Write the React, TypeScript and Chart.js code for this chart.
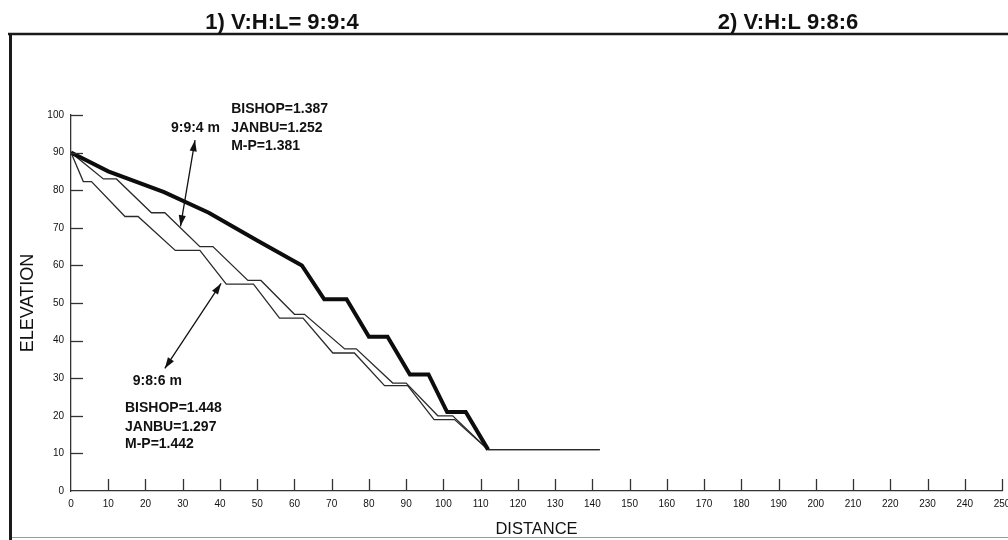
import React, { useEffect, useRef } from "react";
import { Chart, registerables } from "chart.js";

Chart.register(...registerables);

// ---- data ----
const panelTitles = ["1) V:H:L= 9:9:4", "2) V:H:L 9:8:6"];
const xAxisTitle = "DISTANCE";
const yAxisTitle = "ELEVATION";

const xTickMin = 0;
const xTickMax = 250;
const xTickStep = 10;
const yTickMin = 0;
const yTickMax = 100;
const yTickStep = 10;

// thick profile (original slope)
const thickX = [0, 10, 25, 37, 50, 62, 68, 74, 80, 85, 91, 96, 101, 106, 112];
const thickY = [90, 85, 79.5, 74, 66.6, 60, 51, 51, 41, 41, 31, 31, 21, 21, 11];

// thin profile 9:9:4 m
const upperX = [0, 8.7, 12.2, 21.6, 25.2, 34.6, 38.1, 47.5, 51, 60, 62.7, 73.5, 76.6, 86.4, 90, 98.5, 102.5, 112, 142];
const upperY = [90, 83, 83, 74, 74, 65, 65, 56, 56, 47, 47, 37.8, 37.8, 28.7, 28.7, 20, 20, 11, 11];

// thin profile 9:8:6 m
const lowerX = [0, 3.3, 5.5, 14.5, 18, 28, 34.6, 41.7, 49, 56, 62.3, 70.3, 76.1, 84.2, 90.4, 97.5, 103, 112, 142];
const lowerY = [90, 82.3, 82.3, 73, 73, 64, 64, 55, 55, 46, 46, 36.7, 36.7, 28, 28, 19, 19, 11, 11];

const upperCaseName = "9:9:4 m";
const upperFactors = ["BISHOP=1.387", "JANBU=1.252", "M-P=1.381"];
const lowerCaseName = "9:8:6 m";
const lowerFactors = ["BISHOP=1.448", "JANBU=1.297", "M-P=1.442"];

// double-headed arrows, in data units [x1, y1, x2, y2]
const upperArrow = [33.3, 93.3, 29.4, 70.4];
const lowerArrow = [40.3, 55.2, 25.2, 32.6];

const FONT = '"Liberation Sans", Arial, Helvetica, sans-serif';
const INK = "#111";

const toPoints = (xs: number[], ys: number[]) => xs.map((x, i) => ({ x, y: ys[i] }));

function drawArrowHead(ctx: CanvasRenderingContext2D, fx: number, fy: number, tx: number, ty: number) {
  const ang = Math.atan2(ty - fy, tx - fx);
  const len = 11;
  const half = 3.6;
  ctx.beginPath();
  ctx.moveTo(tx, ty);
  ctx.lineTo(tx - len * Math.cos(ang) + half * Math.sin(ang), ty - len * Math.sin(ang) - half * Math.cos(ang));
  ctx.lineTo(tx - len * Math.cos(ang) - half * Math.sin(ang), ty - len * Math.sin(ang) + half * Math.cos(ang));
  ctx.closePath();
  ctx.fill();
}

const decorPlugin = {
  id: "decor",
  beforeDraw(chart: any) {
    const { ctx, width, height } = chart;
    ctx.save();
    ctx.fillStyle = "#fff";
    ctx.fillRect(0, 0, width, height);
    ctx.restore();
  },
  afterDraw(chart: any) {
    const { ctx, chartArea, scales } = chart;
    const xs = scales.x;
    const ys = scales.y;
    ctx.save();

    // inward tick marks
    ctx.strokeStyle = "#333";
    ctx.lineWidth = 1.3;
    ys.ticks.forEach((t: any) => {
      if (t.value <= yTickMin) return;
      const py = Math.round(ys.getPixelForValue(t.value)) + 0.5;
      ctx.beginPath();
      ctx.moveTo(chartArea.left, py);
      ctx.lineTo(chartArea.left + 12, py);
      ctx.stroke();
    });
    xs.ticks.forEach((t: any) => {
      if (t.value <= xTickMin) return;
      const px = Math.round(xs.getPixelForValue(t.value)) + 0.5;
      ctx.beginPath();
      ctx.moveTo(px, chartArea.bottom);
      ctx.lineTo(px, chartArea.bottom - 12);
      ctx.stroke();
    });

    // frame
    ctx.strokeStyle = "#1a1a1a";
    ctx.lineWidth = 2.5;
    ctx.beginPath();
    ctx.moveTo(8, 34);
    ctx.lineTo(1008, 34);
    ctx.stroke();
    ctx.lineWidth = 3;
    ctx.beginPath();
    ctx.moveTo(10.5, 33);
    ctx.lineTo(10.5, 540);
    ctx.stroke();
    ctx.strokeStyle = "#999";
    ctx.lineWidth = 1;
    ctx.beginPath();
    ctx.moveTo(12, 537.5);
    ctx.lineTo(1008, 537.5);
    ctx.stroke();

    // panel titles
    ctx.fillStyle = INK;
    ctx.font = `bold 22px ${FONT}`;
    ctx.textAlign = "center";
    ctx.textBaseline = "middle";
    ctx.fillText(panelTitles[0], 282, 23);
    ctx.fillText(panelTitles[1], 788, 23);

    // annotations (placed in data units)
    const X = (v: number) => xs.getPixelForValue(v);
    const Y = (v: number) => ys.getPixelForValue(v);
    ctx.font = `bold 14px ${FONT}`;
    ctx.textAlign = "right";
    ctx.fillText(upperCaseName, X(40.0), Y(96.5));
    ctx.textAlign = "left";
    const upperYs = [101.6, 96.6, 91.7];
    upperFactors.forEach((s, i) => ctx.fillText(s, X(43.0), Y(upperYs[i])));
    ctx.fillText(lowerCaseName, X(16.6), Y(29.1));
    const lowerYs = [22.0, 17.1, 12.5];
    lowerFactors.forEach((s, i) => ctx.fillText(s, X(14.5), Y(lowerYs[i])));

    // arrows
    ctx.strokeStyle = INK;
    ctx.fillStyle = INK;
    ctx.lineWidth = 1.3;
    [upperArrow, lowerArrow].forEach((a) => {
      const x1 = X(a[0]), y1 = Y(a[1]), x2 = X(a[2]), y2 = Y(a[3]);
      ctx.beginPath();
      ctx.moveTo(x1, y1);
      ctx.lineTo(x2, y2);
      ctx.stroke();
      drawArrowHead(ctx, x2, y2, x1, y1);
      drawArrowHead(ctx, x1, y1, x2, y2);
    });

    ctx.restore();
  },
};

export default function App() {
  const canvasRef = useRef<HTMLCanvasElement | null>(null);

  useEffect(() => {
    const canvas = canvasRef.current;
    if (!canvas) return;
    Chart.defaults.font.family = FONT;
    Chart.defaults.color = INK;

    const chart = new Chart(canvas, {
      type: "line",
      data: {
        datasets: [
          {
            label: "original",
            data: toPoints(thickX, thickY),
            borderColor: "#0d0d0d",
            borderWidth: 4,
            pointRadius: 0,
            tension: 0,
            fill: false,
          },
          {
            label: "9:9:4 m",
            data: toPoints(upperX, upperY),
            borderColor: "#2a2a2a",
            borderWidth: 1.3,
            pointRadius: 0,
            tension: 0,
            fill: false,
          },
          {
            label: "9:8:6 m",
            data: toPoints(lowerX, lowerY),
            borderColor: "#2a2a2a",
            borderWidth: 1.3,
            pointRadius: 0,
            tension: 0,
            fill: false,
          },
        ],
      },
      options: {
        responsive: false,
        maintainAspectRatio: false,
        animation: false,
        layout: { padding: { top: 115, left: 8, right: 6, bottom: 0 } },
        plugins: { legend: { display: false }, tooltip: { enabled: false } },
        scales: {
          x: {
            type: "linear",
            min: xTickMin,
            max: xTickMax,
            grid: { drawOnChartArea: false, drawTicks: false },
            border: { display: true, color: "#333", width: 1.3 },
            ticks: {
              stepSize: xTickStep,
              autoSkip: false,
              maxRotation: 0,
              padding: 7,
              color: INK,
              font: { size: 10, family: FONT },
            },
            title: {
              display: true,
              text: xAxisTitle,
              color: INK,
              font: { size: 16.5, family: FONT },
              padding: { top: 0, bottom: 1 },
            },
            afterFit: (scale: any) => {
              scale.height = 49;
              scale.paddingLeft = 0;
              scale.paddingRight = 0;
            },
          },
          y: {
            type: "linear",
            min: yTickMin,
            max: yTickMax,
            grid: { drawOnChartArea: false, drawTicks: false },
            border: { display: true, color: "#333", width: 1.3 },
            ticks: {
              stepSize: yTickStep,
              padding: 7,
              color: INK,
              font: { size: 10, family: FONT },
            },
            title: {
              display: true,
              text: yAxisTitle,
              color: INK,
              font: { size: 18, family: FONT },
              padding: { top: 9, bottom: 0 },
            },
            afterFit: (scale: any) => {
              scale.width = 63;
              scale.paddingTop = 0;
              scale.paddingBottom = 0;
            },
          },
        },
      },
      plugins: [decorPlugin],
    });

    return () => chart.destroy();
  }, []);

  return (
    <div style={{ position: "fixed", left: 0, top: 0, width: 1008, height: 540, background: "#fff" }}>
      <canvas ref={canvasRef} width={1008} height={540} style={{ display: "block" }} />
    </div>
  );
}
